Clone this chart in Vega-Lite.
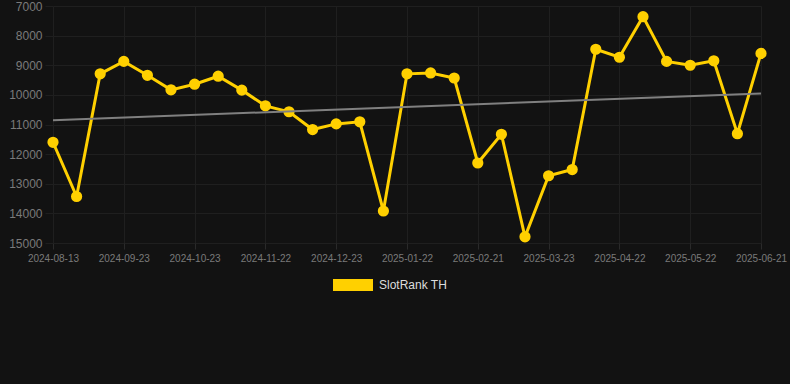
{
  "$schema": "https://vega.github.io/schema/vega-lite/v6.json",
  "width": 708,
  "height": 237,
  "autosize": {"type": "none"},
  "padding": {"left": 53, "top": 6, "right": 29, "bottom": 141},
  "background": "#121212",
  "config": {
    "view": {"stroke": null},
    "font": "Liberation Sans",
    "axis": {"labelOverlap": false},
    "axisY": {"labelOverlap": false, "labelFlush": false}
  },
  "datasets": {
    "rank": [
      {"date": "2024-08-13", "rank": 11600, "series": "SlotRank TH"},
      {"date": "2024-08-27", "rank": 13430, "series": "SlotRank TH"},
      {"date": "2024-09-10", "rank": 9290, "series": "SlotRank TH"},
      {"date": "2024-09-23", "rank": 8870, "series": "SlotRank TH"},
      {"date": "2024-10-03", "rank": 9340, "series": "SlotRank TH"},
      {"date": "2024-10-13", "rank": 9830, "series": "SlotRank TH"},
      {"date": "2024-10-23", "rank": 9640, "series": "SlotRank TH"},
      {"date": "2024-11-02", "rank": 9370, "series": "SlotRank TH"},
      {"date": "2024-11-12", "rank": 9840, "series": "SlotRank TH"},
      {"date": "2024-11-22", "rank": 10370, "series": "SlotRank TH"},
      {"date": "2024-12-02", "rank": 10570, "series": "SlotRank TH"},
      {"date": "2024-12-12", "rank": 11170, "series": "SlotRank TH"},
      {"date": "2024-12-23", "rank": 10980, "series": "SlotRank TH"},
      {"date": "2025-01-02", "rank": 10910, "series": "SlotRank TH"},
      {"date": "2025-01-12", "rank": 13920, "series": "SlotRank TH"},
      {"date": "2025-01-22", "rank": 9290, "series": "SlotRank TH"},
      {"date": "2025-02-01", "rank": 9260, "series": "SlotRank TH"},
      {"date": "2025-02-11", "rank": 9430, "series": "SlotRank TH"},
      {"date": "2025-02-21", "rank": 12300, "series": "SlotRank TH"},
      {"date": "2025-03-03", "rank": 11330, "series": "SlotRank TH"},
      {"date": "2025-03-13", "rank": 14790, "series": "SlotRank TH"},
      {"date": "2025-03-23", "rank": 12730, "series": "SlotRank TH"},
      {"date": "2025-04-02", "rank": 12520, "series": "SlotRank TH"},
      {"date": "2025-04-12", "rank": 8460, "series": "SlotRank TH"},
      {"date": "2025-04-22", "rank": 8730, "series": "SlotRank TH"},
      {"date": "2025-05-02", "rank": 7360, "series": "SlotRank TH"},
      {"date": "2025-05-12", "rank": 8870, "series": "SlotRank TH"},
      {"date": "2025-05-22", "rank": 9000, "series": "SlotRank TH"},
      {"date": "2025-06-01", "rank": 8850, "series": "SlotRank TH"},
      {"date": "2025-06-11", "rank": 11310, "series": "SlotRank TH"},
      {"date": "2025-06-21", "rank": 8600, "series": "SlotRank TH"}
    ],
    "trend": [
      {"date": "2024-08-13", "trend": 10855},
      {"date": "2025-06-21", "trend": 9956}
    ]
  },
  "encoding": {
    "x": {
      "field": "date",
      "type": "ordinal",
      "sort": null,
      "scale": {"type": "point", "padding": 0},
      "axis": {
        "title": null,
        "labelAngle": 0,
        "values": ["2024-08-13", "2024-09-23", "2024-10-23", "2024-11-22", "2024-12-23", "2025-01-22", "2025-02-21", "2025-03-23", "2025-04-22", "2025-05-22", "2025-06-21"],
        "labelColor": "#7a7a7a",
        "labelFontSize": 10,
        "labelPadding": 4,
        "labelOverlap": false,
        "domain": false,
        "ticks": true,
        "tickColor": "#2a2a2a",
        "tickSize": 6,
        "grid": true,
        "gridColor": "#1f1f1f",
        "gridWidth": 1
      }
    },
    "y": {
      "field": "rank",
      "type": "quantitative",
      "scale": {"domain": [7000, 15000], "reverse": true, "nice": false, "zero": false},
      "axis": {
        "title": null,
        "values": [7000, 8000, 9000, 10000, 11000, 12000, 13000, 14000, 15000],
        "format": "d",
        "labelColor": "#7a7a7a",
        "labelFontSize": 12,
        "labelPadding": 3,
        "labelOverlap": false,
        "labelBound": false,
        "labelFlush": false,
        "domain": false,
        "ticks": true,
        "tickSize": 8,
        "tickColor": "#1f1f1f",
        "grid": true,
        "gridColor": "#1f1f1f"
      }
    }
  },
  "layer": [
    {
      "data": {"name": "rank"},
      "mark": {"type": "line", "color": "#FFD000", "strokeWidth": 3, "point": {"filled": true, "size": 85, "color": "#FFD000"}},
      "encoding": {
        "stroke": {
          "field": "series",
          "type": "nominal",
          "scale": {"range": ["#FFD000"]},
          "legend": {
            "orient": "none",
            "legendX": 280,
            "legendY": 259,
            "title": null,
            "symbolType": "M-1,-0.3L1,-0.3L1,0.3L-1,0.3Z",
            "symbolSize": 1600,
            "symbolFillColor": "#FFD000",
            "symbolStrokeColor": "#FFD000",
            "symbolStrokeWidth": 0,
            "labelColor": "#dddddd",
            "labelFontSize": 12,
            "labelOffset": 6
          }
        }
      }
    },
    {
      "data": {"name": "trend"},
      "mark": {"type": "line", "color": "#808080", "strokeWidth": 2},
      "encoding": {
        "y": {"field": "trend", "type": "quantitative"}
      }
    }
  ]
}
